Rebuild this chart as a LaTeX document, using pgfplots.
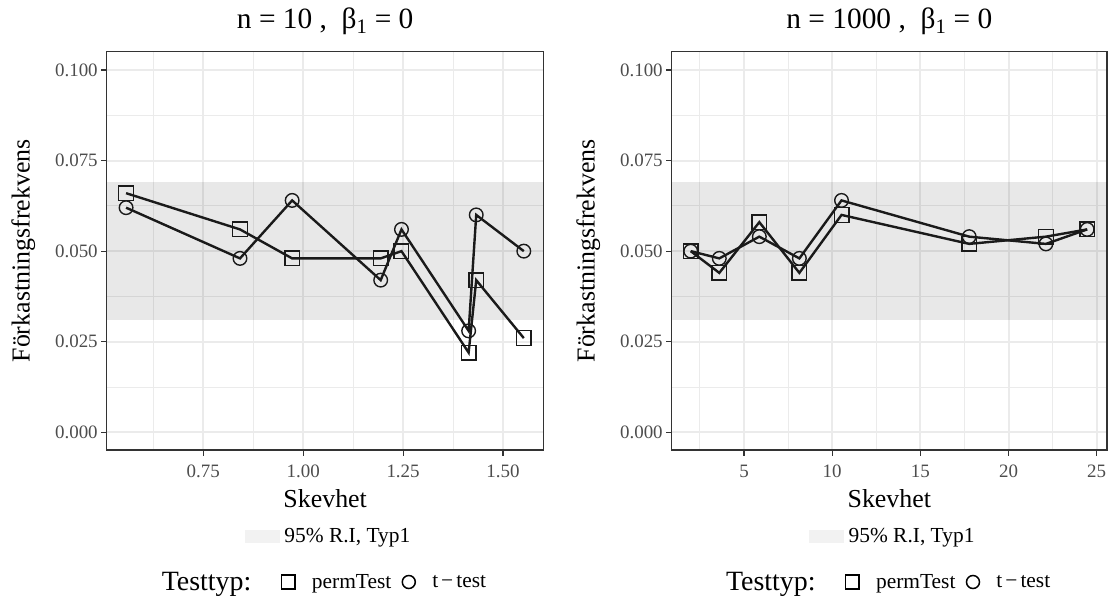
\documentclass[border=0pt]{standalone}
\usepackage{fontspec}
\setmainfont{Liberation Serif}
\usepackage{pgfplots}
\usepackage{pgfplotstable}
\pgfplotsset{compat=1.18}

\definecolor{gridc}{HTML}{EBEBEB}
\definecolor{axc}{HTML}{333333}
\definecolor{tickc}{HTML}{4D4D4D}
\definecolor{linec}{HTML}{1A1A1A}
\definecolor{swatch}{HTML}{F2F2F2}

\pgfplotstableread{
x      perm   ttest
0.557  0.066  0.062
0.842  0.056  0.048
0.9725 0.048  0.064
1.194  0.048  0.042
1.246  0.050  0.056
1.414  0.022  0.028
1.433  0.042  0.060
1.552  0.026  0.050
}\leftdata

\pgfplotstableread{
x      perm   ttest
1.98   0.050  0.050
3.60   0.044  0.048
5.87   0.058  0.054
8.14   0.044  0.048
10.53  0.060  0.064
17.77  0.052  0.054
22.12  0.054  0.052
24.46  0.056  0.056
}\rightdata

\pgfplotsset{
  panel/.style={
    scale only axis, width=437bp, height=398.3bp,
    ymin=-0.00489, ymax=0.10505,
    scaled x ticks=false, scaled y ticks=false,
    /pgf/number format/assume math mode=true,
    ytick={0,0.025,0.05,0.075,0.1},
    minor ytick={0.0125,0.0375,0.0625,0.0875},
    yticklabel style={/pgf/number format/fixed, /pgf/number format/fixed zerofill, /pgf/number format/precision=3},
    ticklabel style={font=\fontsize{19}{19}\selectfont, text=tickc},
    xticklabel shift=6bp,
    grid=both,
    major grid style={draw=gridc, line width=2bp},
    minor grid style={draw=gridc, line width=1bp},
    axis line style={draw=axc, line width=1.1bp},
    major tick style={draw=axc, line width=1.1bp},
    major tick length=5.5bp, minor tick length=0bp,
    tick align=outside, tick pos=left,
    xlabel={Skevhet}, ylabel={Förkastningsfrekvens},
    label style={font=\fontsize{26}{26}\selectfont, text=black},
    ylabel shift=13bp,
    xlabel style={at={(rel axis cs:0.5,0)}, anchor=base, yshift=-57bp},
    title style={font=\fontsize{29.5}{29.5}\selectfont, at={(rel axis cs:0.5,1)}, anchor=base, yshift=17bp},
    legend style={at={(0.48,-0.3314)}, anchor=center, draw=none, fill=none,
      font=\fontsize{21.5}{22}\selectfont, legend columns=-1,
      /tikz/every odd column/.append style={column sep=15bp},
      /tikz/every even column/.append style={column sep=9bp}},
    legend cell align=left,
  },
  bandleg/.style={
    scale only axis, width=437bp, height=398.3bp, hide axis,
    xmin=0, xmax=1, ymin=0, ymax=1,
    legend style={at={(0.508,-0.216)}, anchor=center, draw=none, fill=none,
      font=\fontsize{21.5}{22}\selectfont},
  },
  permline/.style={forget plot, draw=linec, line width=2.4bp, mark=square, mark size=7.3bp,
    mark options={draw=linec, line width=1.4bp, fill=none, solid}},
  tline/.style={forget plot, draw=linec, line width=2.4bp, mark=o, mark size=6.8bp,
    mark options={draw=linec, line width=1.4bp, fill=none, solid}},
  bandfill/.style={forget plot, draw=none, fill=black, fill opacity=0.09},
}

\newcommand{\testlegend}{%
  \addlegendimage{empty legend}
  \addlegendentry{\fontsize{28}{28}\selectfont Testtyp:\kern19bp}
  \addlegendimage{only marks, mark=square, mark size=6.8bp, mark options={draw=black, line width=1.5bp, fill=none}}
  \addlegendentry{permTest}
  \addlegendimage{only marks, mark=o, mark size=6.5bp, mark options={draw=black, line width=1.5bp, fill=none}}
  \addlegendentry{t\kern3bp−\kern3bp test}
}

\begin{document}
\begin{tikzpicture}
\path[use as bounding box] (0,0) rectangle (1111bp,-601bp);

% left panel
\begin{axis}[panel, at={(106.7bp,-51.7bp)}, anchor=north west,
  xmin=0.5085, xmax=1.6018,
  xtick={0.75,1,1.25,1.5}, minor xtick={0.625,0.875,1.125,1.375},
  xticklabel style={/pgf/number format/fixed, /pgf/number format/fixed zerofill, /pgf/number format/precision=2},
  title={n = 10 ,\ \ β\textsubscript{1} = 0}]
  \addplot[bandfill] coordinates {(0.5085,0.0309) (1.6018,0.0309) (1.6018,0.0691) (0.5085,0.0691)} -- cycle;
  \addplot[permline] table[x=x, y=perm] {\leftdata};
  \addplot[tline] table[x=x, y=ttest] {\leftdata};
  \testlegend
\end{axis}
\begin{axis}[bandleg, at={(106.7bp,-51.7bp)}, anchor=north west]
  \addlegendimage{legend image code/.code={\fill[swatch] (0bp,-6bp) rectangle (34bp,6bp);}}
  \addlegendentry{\hspace{3bp}95\% R.I, Typ1}
\end{axis}

% right panel
\begin{axis}[panel, at={(671.7bp,-51.7bp)}, anchor=north west, width=435.3bp,
  xmin=0.901, xmax=25.584,
  xtick={5,10,15,20,25}, minor xtick={2.5,7.5,12.5,17.5,22.5},
  title={n = 1000 ,\ \ β\textsubscript{1} = 0}]
  \addplot[bandfill] coordinates {(0.901,0.0309) (25.584,0.0309) (25.584,0.0691) (0.901,0.0691)} -- cycle;
  \addplot[permline] table[x=x, y=perm] {\rightdata};
  \addplot[tline] table[x=x, y=ttest] {\rightdata};
  \testlegend
\end{axis}
\begin{axis}[bandleg, at={(671.7bp,-51.7bp)}, anchor=north west, width=435.3bp]
  \addlegendimage{legend image code/.code={\fill[swatch] (0bp,-6bp) rectangle (34bp,6bp);}}
  \addlegendentry{\hspace{3bp}95\% R.I, Typ1}
\end{axis}
\end{tikzpicture}
\end{document}
